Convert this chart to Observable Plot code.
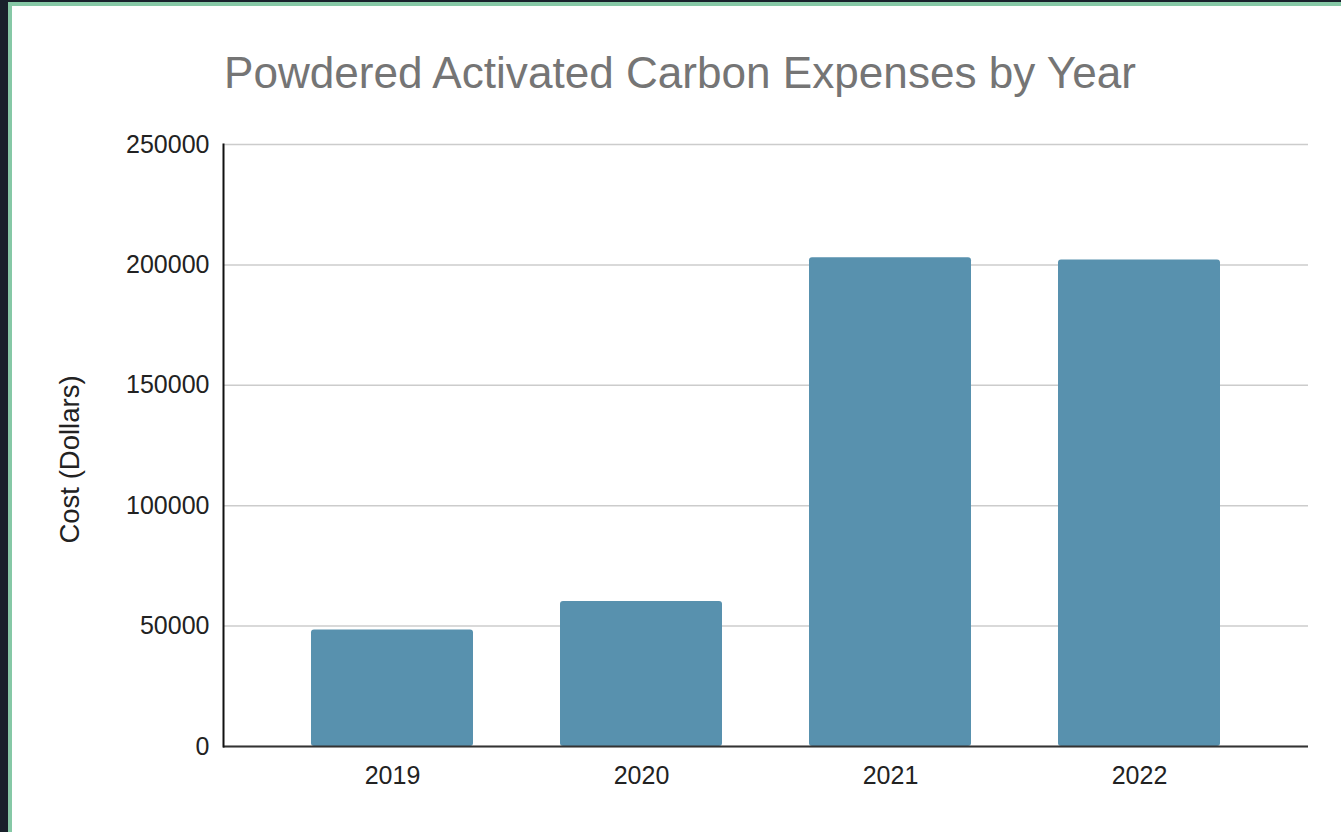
<!DOCTYPE html>
<html>
<head>
<meta charset="utf-8">
<script src="https://cdn.jsdelivr.net/npm/d3@7"></script>
<script src="https://cdn.jsdelivr.net/npm/@observablehq/plot@0.6"></script>
<style>
  html, body { margin: 0; padding: 0; width: 1341px; height: 832px; overflow: hidden; background: #19202b; }
  #panel { position: absolute; left: 8px; top: 2px; right: 0; bottom: 0; background: #fff;
           border-left: 4px solid #86c8a6; border-top: 4px solid #86c8a6; }
  #title { position: absolute; left: 224px; top: 51px; font-family: "Liberation Sans", Arial, sans-serif;
           font-size: 44.1px; line-height: 44px; color: #757575; white-space: nowrap; }
  #chart { position: absolute; left: 0; top: 110px; }
</style>
</head>
<body>
<div id="panel"></div>
<div id="title">Powdered Activated Carbon Expenses by Year</div>
<div id="chart"></div>
<script>
const years = ["2019", "2020", "2021", "2022"];
const costs = [48400, 60200, 203000, 202000];
const yTicks = [0, 50000, 100000, 150000, 200000, 250000];
const yTitle = "Cost (Dollars)";

const data = years.map((y, i) => ({year: y, cost: costs[i]}));

const chart = Plot.plot({
  width: 1341,
  height: 722,
  marginLeft: 223,
  marginRight: 33,
  marginTop: 34,
  marginBottom: 86,
  style: {background: "transparent", fontFamily: "'Liberation Sans', Arial, sans-serif", fontSize: "25px", color: "#222"},
  x: {domain: years, padding: 0.35, label: null},
  y: {domain: [0, 250000], label: null},
  marks: [
    Plot.gridY(yTicks, {stroke: "#cccccc", strokeOpacity: 1, strokeWidth: 1.5}),
    Plot.barY(data, {x: "year", y: "cost", fill: "#5891ae", rx: 3}),
    Plot.axisY(yTicks, {tickSize: 0, tickPadding: 14, tickFormat: d => String(d), label: null, fontSize: 25}),
    Plot.axisX({tickSize: 0, tickPadding: 20, label: null, fontSize: 25}),
    Plot.ruleY([0], {stroke: "#333", strokeWidth: 2}),
    Plot.frame({anchor: "left", stroke: "#111", strokeWidth: 2}),
    Plot.text([yTitle], {frameAnchor: "left", textAnchor: "middle", rotate: -90, dx: -153, dy: 14, fontSize: 27.5, fill: "#222"})
  ]
});
document.getElementById("chart").appendChild(chart);
</script>
</body>
</html>
